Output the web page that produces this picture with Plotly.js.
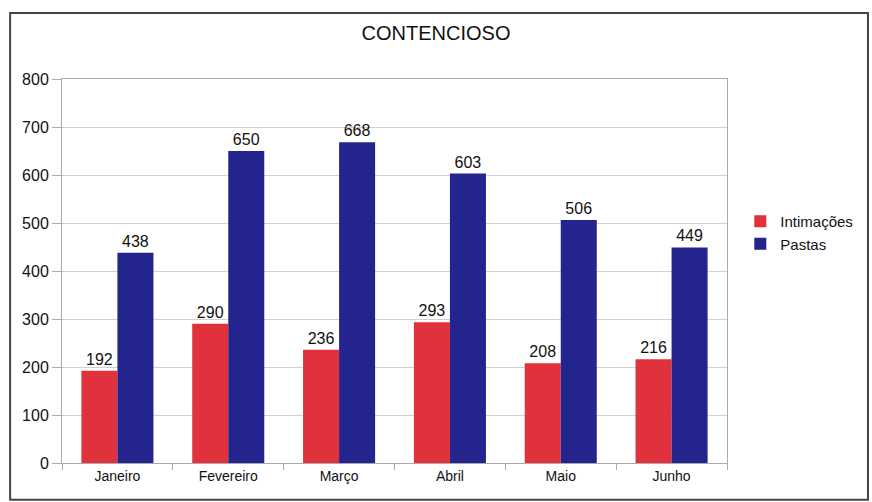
<!DOCTYPE html>
<html>
<head>
<meta charset="utf-8">
<script src="https://cdn.plot.ly/plotly-3.0.1.min.js"></script>
<style>
html,body{margin:0;padding:0;background:#fff;}
#chart{width:872px;height:502px;}
</style>
</head>
<body>
<div id="chart"></div>
<script>
const months = ["Janeiro", "Fevereiro", "Março", "Abril", "Maio", "Junho"];
const intimacoes = [192, 290, 236, 293, 208, 216];
const pastas = [438, 650, 668, 603, 506, 449];
const yTicks = [0, 100, 200, 300, 400, 500, 600, 700, 800];

const font = "Liberation Sans, Arial, sans-serif";

const traces = [
  {
    type: "bar", name: "Intimações", x: months, y: intimacoes,
    marker: {color: "#e1313d"},
    text: intimacoes.map(String), textposition: "outside",
    textfont: {family: font, size: 16, color: "#111"},
    cliponaxis: false
  },
  {
    type: "bar", name: "Pastas", x: months, y: pastas,
    marker: {color: "#24248e"},
    text: pastas.map(String), textposition: "outside",
    textfont: {family: font, size: 16, color: "#111"},
    cliponaxis: false
  }
];

const layout = {
  width: 872, height: 502,
  margin: {l: 62, r: 145, t: 79, b: 39},
  paper_bgcolor: "#fff", plot_bgcolor: "#fff",
  font: {family: font, color: "#111", size: 14},
  title: {text: "CONTENCIOSO", x: 0.5, xanchor: "center", y: 0.935, yanchor: "middle",
          font: {family: font, size: 20, color: "#111"}},
  barmode: "group", bargap: 0.35, bargroupgap: 0,
  xaxis: {
    showgrid: false, showline: true, linecolor: "#aaa", linewidth: 1, mirror: true,
    ticks: "outside", tickson: "boundaries", ticklen: 6, tickcolor: "#aaa",
    tickfont: {family: font, size: 14, color: "#111"}
  },
  yaxis: {
    range: [0, 800], tickvals: yTicks, ticktext: yTicks.map(String),
    showgrid: true, gridcolor: "#d0d0d0", showline: true, linecolor: "#aaa", mirror: true,
    zeroline: false, ticks: "outside", ticklen: 9, tickcolor: "#aaa",
    tickfont: {family: font, size: 16, color: "#111"}
  },
  showlegend: true,
  legend: {x: 1.02, y: 0.6, xanchor: "left", yanchor: "middle",
           font: {family: font, size: 15, color: "#111"}, itemwidth: 30,
           tracegroupgap: 0, bgcolor: "rgba(0,0,0,0)"},
  shapes: [
    {type: "rect", xref: "paper", yref: "paper",
     x0: -0.078, x1: 1.212, y0: -0.096, y1: 1.172,
     line: {color: "#444", width: 2}, fillcolor: "rgba(0,0,0,0)", layer: "above"}
  ]
};

Plotly.newPlot("chart", traces, layout, {displayModeBar: false, staticPlot: true});
</script>
</body>
</html>
